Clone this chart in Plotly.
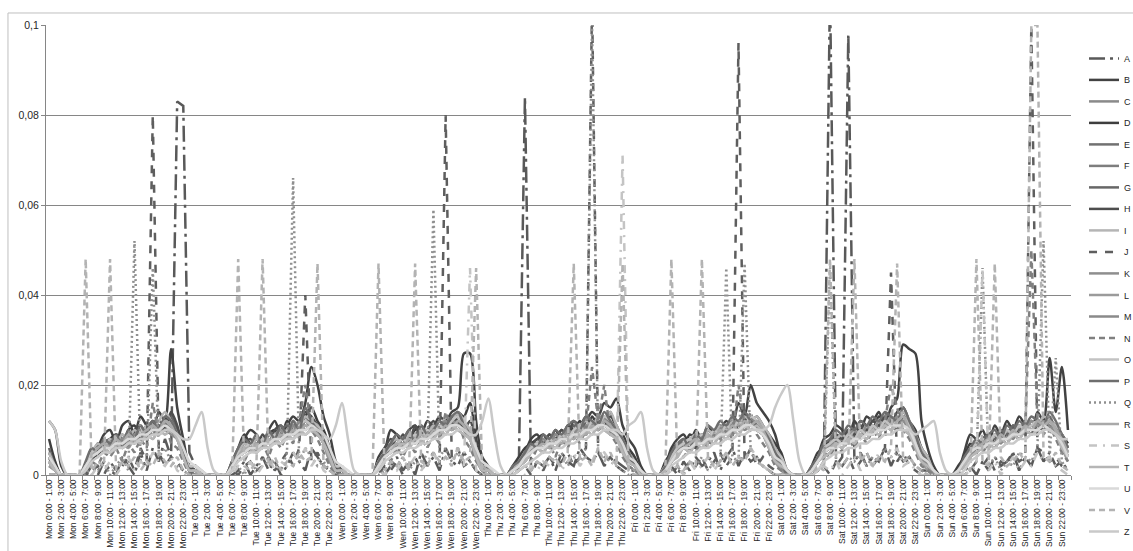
import plotly.graph_objects as go

# Hour-of-week categories (tick labels)
days = ["Mon", "Tue", "Wen", "Thu", "Fri", "Sat", "Sun"]
categories = [f"{d} {h}:00 - {h + 1}:00" for d in days for h in range(24)]

# Series values, in thousandths, Mon..Sun, 24 hours per day
A = [0,0,0,0,0,0,0,2,0,3,1,0,4,2,0,5,1,6,3,8,4,83,82,5,
     2,0,0,0,0,0,0,1,3,0,2,4,1,3,0,2,5,3,1,6,4,2,1,0,
     0,0,0,0,0,0,1,0,2,4,1,3,0,5,2,4,1,6,3,2,5,3,1,0,
     0,0,0,0,0,2,84,1,3,2,4,1,5,3,2,6,4,3,5,2,4,3,2,1,
     1,0,0,0,0,1,2,0,3,1,4,2,3,5,1,4,6,2,5,3,4,2,1,0,
     0,0,0,0,0,0,1,3,108,2,4,98,3,5,2,4,3,6,2,5,3,4,2,1,
     1,0,0,0,0,0,1,2,0,3,1,4,2,3,5,1,4,2,6,3,5,2,3,1]
B = [12,10,2,0,0,0,1,3,6,9,10,7,11,12,9,13,11,10,14,12,28,15,8,2,
     1,0,0,0,0,0,2,4,8,10,9,7,10,12,9,11,13,12,16,24,20,13,9,3,
     1,0,0,0,0,0,2,5,10,9,8,10,11,9,12,11,13,12,14,15,27,27,12,4,
     2,0,0,0,1,3,5,8,9,7,9,8,10,9,11,10,12,14,13,16,15,17,11,8,
     6,2,0,0,0,2,6,8,9,7,10,8,11,9,10,12,11,16,13,20,16,14,12,9,
     4,1,0,0,0,1,4,8,9,11,10,8,12,10,13,12,14,11,15,17,29,28,27,12,
     6,2,0,0,0,1,5,9,8,10,7,11,9,12,10,13,11,9,14,12,26,14,24,10]
C = [3,1,0,0,0,0,2,4,5,6,5,7,6,8,7,9,8,10,9,10,9,8,4,1,
     0,0,0,0,0,0,2,4,5,6,7,6,8,7,9,8,10,9,11,10,9,7,4,1,
     0,0,0,0,0,0,2,4,5,6,7,8,7,9,8,10,9,11,10,11,10,8,4,1,
     1,0,0,0,1,2,3,5,6,7,6,8,7,9,8,10,9,11,10,11,10,8,6,3,
     2,0,0,0,0,1,3,5,6,7,6,8,7,9,8,10,9,11,10,11,10,9,6,3,
     2,0,0,0,0,1,3,5,6,7,8,7,9,8,10,9,11,10,12,11,12,10,7,4,
     2,0,0,0,0,1,3,4,6,7,6,8,7,9,8,10,9,11,10,11,10,9,7,4]
D = [8,3,0,0,0,0,1,4,7,6,8,9,7,10,11,8,10,12,9,11,13,10,5,1,
     1,0,0,0,0,0,3,6,9,7,8,6,9,10,8,12,10,11,13,15,12,10,6,2,
     0,0,0,0,0,0,4,6,7,9,6,8,10,11,9,10,12,10,11,14,13,16,8,3,
     1,0,0,0,2,4,6,7,8,9,7,10,8,11,10,12,9,13,11,12,14,10,9,6,
     4,1,0,0,0,3,5,7,6,9,8,7,10,9,11,10,12,11,14,12,13,11,9,7,
     5,1,0,0,0,2,5,6,8,9,7,10,9,12,11,10,13,12,11,14,15,12,10,6,
     4,1,0,0,0,2,4,7,6,8,9,7,10,8,11,9,12,10,11,13,12,11,9,7]
E = [4,1,0,0,0,0,2,5,6,7,6,8,7,9,8,10,9,11,10,12,11,9,5,1,
     1,0,0,0,0,0,2,5,6,7,8,7,9,8,10,9,11,10,12,11,10,8,4,1,
     1,0,0,0,0,0,3,5,6,7,8,7,9,10,9,11,10,12,11,12,10,9,5,1,
     1,0,0,0,1,2,4,6,7,6,8,9,8,10,9,11,10,12,11,12,11,9,7,4,
     2,1,0,0,0,2,4,5,7,8,7,9,8,10,9,11,10,12,11,12,11,10,7,4,
     2,1,0,0,0,1,3,6,7,8,9,8,10,9,11,10,12,11,12,11,13,10,8,5,
     2,1,0,0,0,1,3,5,6,8,7,9,8,10,9,11,10,12,11,12,11,10,8,5]
F = [3,1,0,0,0,0,2,4,5,6,7,6,8,7,9,8,10,9,11,10,11,9,5,1,
     1,0,0,0,0,0,2,4,5,6,7,8,7,9,8,10,9,11,10,11,9,8,4,1,
     0,0,0,0,0,0,2,4,6,5,7,8,7,9,8,10,11,10,12,11,10,8,4,1,
     1,0,0,0,1,2,4,5,6,7,6,8,9,8,10,9,11,10,12,11,10,9,6,3,
     2,0,0,0,0,1,3,5,6,7,8,7,9,8,10,9,11,10,11,12,10,9,7,4,
     2,0,0,0,0,1,3,5,6,7,8,9,8,10,9,11,10,12,11,10,12,10,7,4,
     2,0,0,0,0,1,3,5,6,7,8,7,9,8,10,9,11,10,11,10,12,10,8,5]
G = [6,2,0,0,0,0,2,6,5,7,8,6,9,8,10,9,11,10,12,11,13,10,6,2,
     1,0,0,0,0,0,3,5,7,6,8,7,9,8,10,11,9,12,13,11,10,9,5,2,
     1,0,0,0,0,0,3,5,6,8,7,9,8,10,9,11,10,12,11,13,11,10,6,2,
     1,0,0,0,1,3,4,6,7,8,7,9,9,10,11,10,12,11,13,12,11,10,8,5,
     3,1,0,0,0,2,4,6,8,7,9,8,10,9,11,10,12,11,12,13,11,10,8,5,
     3,1,0,0,0,1,4,6,7,9,8,10,9,11,10,12,11,10,13,12,14,11,8,5,
     3,1,0,0,0,1,3,6,7,8,9,8,10,9,11,10,12,11,12,11,13,10,9,6]
H = [5,2,0,0,0,0,2,5,4,8,6,9,8,7,10,11,9,12,11,10,14,11,6,2,
     1,0,0,0,0,0,2,5,7,8,6,9,7,10,11,9,12,10,14,13,11,9,5,1,
     1,0,0,0,0,0,3,6,8,6,9,7,11,8,10,12,9,11,13,12,10,12,7,2,
     1,0,0,0,1,3,5,6,8,7,9,8,10,9,12,11,13,10,12,11,13,11,8,5,
     3,1,0,0,0,2,4,6,7,8,6,9,8,10,9,11,12,10,13,11,12,10,8,6,
     3,1,0,0,0,1,4,7,6,9,8,10,9,11,10,12,11,13,12,10,13,11,9,6,
     3,1,0,0,0,1,3,6,7,8,7,9,8,10,9,11,10,12,11,10,12,11,9,6]
I = [5,2,0,0,0,0,2,5,7,6,8,7,9,8,10,9,11,10,12,14,12,9,5,2,
     2,1,0,0,0,0,2,5,7,6,8,7,9,8,10,9,12,11,13,12,11,9,5,2,
     2,0,0,0,0,0,3,5,7,8,6,9,8,10,9,11,10,13,12,14,12,10,6,3,
     2,0,0,0,1,3,5,6,7,8,7,9,8,10,9,11,12,10,13,12,14,11,8,5,
     3,1,0,0,0,2,4,6,7,8,9,8,10,9,11,10,12,11,13,12,13,11,9,6,
     4,1,0,0,0,1,4,6,7,8,9,8,10,9,11,10,12,11,13,12,14,12,9,6,
     4,1,0,0,0,1,3,6,7,8,7,9,8,10,9,11,10,12,11,13,12,11,9,6]
J = [0,0,0,0,0,0,0,1,2,0,3,1,2,4,1,6,3,80,5,2,4,3,1,0,
     0,0,0,0,0,0,1,0,2,3,1,2,4,1,3,5,2,6,40,3,5,2,1,0,
     0,0,0,0,0,0,0,2,1,3,0,2,4,1,3,5,2,80,4,6,2,3,1,0,
     0,0,0,0,0,1,2,0,3,1,4,2,3,5,2,4,6,105,5,3,4,2,1,0,
     0,0,0,0,0,1,0,2,1,3,2,4,1,3,5,2,4,96,3,6,2,4,2,1,
     0,0,0,0,0,0,1,2,0,3,2,4,1,3,5,2,4,6,45,3,5,2,1,0,
     0,0,0,0,0,0,0,1,3,2,4,1,3,2,5,3,4,100,6,5,3,4,2,1]
K = [2,1,0,0,0,0,2,5,6,5,7,6,8,9,7,10,8,11,10,12,10,8,4,1,
     0,0,0,0,0,0,2,5,6,7,6,8,7,9,10,8,11,9,12,10,9,7,3,1,
     0,0,0,0,0,0,3,5,6,7,8,6,9,8,10,9,11,10,12,11,10,8,4,1,
     1,0,0,0,1,2,4,5,7,6,8,7,9,10,8,11,9,12,10,12,11,9,6,3,
     2,0,0,0,0,1,3,6,7,6,8,9,7,10,9,11,10,12,11,13,10,9,6,3,
     2,0,0,0,0,1,3,5,7,8,7,9,10,8,11,9,12,10,13,11,12,10,7,4,
     2,0,0,0,0,1,3,5,6,8,7,9,8,10,9,11,10,12,11,12,11,9,7,4]
L = [2,1,0,0,0,0,1,4,5,6,5,6,7,6,8,7,9,8,10,9,10,8,4,1,
     0,0,0,0,0,0,1,4,5,6,5,7,6,8,7,9,8,10,9,10,9,7,3,1,
     0,0,0,0,0,0,2,4,5,6,7,6,8,7,9,8,10,9,11,10,9,8,4,1,
     0,0,0,0,1,2,3,5,6,5,7,6,8,7,9,8,10,9,11,10,9,8,5,2,
     1,0,0,0,0,1,3,4,6,5,7,6,8,7,9,8,10,9,11,10,11,9,6,3,
     1,0,0,0,0,1,3,4,5,7,6,8,7,9,8,10,9,11,10,11,10,9,6,3,
     1,0,0,0,0,1,2,4,5,6,7,6,8,7,9,8,10,9,10,11,10,9,6,3]
M = [3,1,0,0,0,0,2,4,6,5,7,6,8,7,9,10,8,11,9,12,11,8,4,1,
     0,0,0,0,0,0,2,4,6,7,5,8,7,9,8,10,11,9,12,11,10,7,4,1,
     0,0,0,0,0,0,2,5,6,7,8,7,9,8,10,9,11,12,10,12,11,8,4,1,
     1,0,0,0,1,2,4,5,6,8,7,9,8,10,9,11,10,12,11,13,10,9,6,3,
     2,0,0,0,0,1,3,5,7,6,8,7,9,8,10,11,9,12,11,12,10,9,7,4,
     2,0,0,0,0,1,3,5,6,8,7,9,8,10,9,11,10,12,11,13,12,10,7,4,
     2,0,0,0,0,1,3,5,6,7,8,7,9,8,10,9,11,10,12,11,12,10,8,4]
N = [0,0,0,0,0,0,1,3,2,5,4,6,3,7,5,8,6,16,9,12,7,6,3,0,
     0,0,0,0,0,0,2,4,3,6,5,7,4,8,6,9,7,12,20,10,8,5,2,0,
     0,0,0,0,0,0,2,5,3,6,4,7,5,8,6,9,7,14,10,12,8,6,3,1,
     0,0,0,0,1,2,4,3,6,5,7,4,8,6,9,7,10,24,12,20,9,7,4,2,
     1,0,0,0,0,2,3,5,4,6,5,8,6,9,7,10,8,20,11,14,9,7,5,2,
     1,0,0,0,0,1,3,5,4,7,5,8,6,9,7,10,8,12,20,15,10,8,5,2,
     1,0,0,0,0,1,3,4,6,5,7,6,8,7,9,8,10,50,12,9,11,8,5,3]
O = [4,1,0,0,0,0,2,5,6,7,6,8,7,9,8,10,9,11,10,12,11,9,5,2,
     2,0,0,0,0,0,2,5,6,7,6,8,7,9,8,10,9,11,12,11,10,8,5,2,
     2,0,0,0,0,0,3,5,6,7,8,7,9,8,10,9,11,10,12,13,11,9,6,2,
     2,0,0,0,1,2,4,6,7,6,8,7,9,8,10,11,9,12,11,13,12,10,7,4,
     3,1,0,0,0,2,4,6,7,8,7,9,8,10,9,11,10,12,11,13,12,10,8,5,
     4,1,0,0,0,1,4,6,7,8,7,9,8,10,9,11,10,12,11,12,13,11,8,5,
     3,1,0,0,0,1,3,5,7,8,7,9,8,10,9,11,10,11,12,11,12,10,8,5]
P = [4,1,0,0,0,0,3,6,5,8,7,9,6,10,8,11,9,12,10,13,12,9,5,1,
     0,0,0,0,0,0,3,6,8,7,9,6,10,8,11,9,12,10,15,12,10,8,5,1,
     0,0,0,0,0,0,3,5,7,9,8,10,7,11,9,10,12,11,13,14,11,9,6,2,
     1,0,0,0,2,3,5,7,6,9,8,10,9,11,12,10,13,12,11,14,12,10,8,5,
     2,0,0,0,0,2,5,7,8,6,9,8,11,10,12,11,13,12,14,12,11,10,8,5,
     3,0,0,0,0,2,4,7,8,10,9,11,10,12,11,13,12,14,13,12,15,12,9,5,
     3,1,0,0,0,1,4,6,8,7,9,10,8,11,10,12,11,13,12,11,14,12,9,6]
Q = [0,0,0,0,0,0,0,2,1,3,0,2,4,1,52,3,2,46,4,6,3,2,1,0,
     0,0,0,0,0,0,1,2,0,3,1,4,2,3,1,5,66,3,6,4,2,3,1,0,
     0,0,0,0,0,0,0,1,3,2,4,1,3,2,5,59,4,6,3,5,2,3,1,0,
     0,0,0,0,0,1,2,1,3,2,4,3,5,2,4,3,6,100,5,4,3,2,1,0,
     0,0,0,0,0,0,1,2,0,3,2,4,1,3,2,46,4,3,47,5,3,2,1,0,
     0,0,0,0,0,0,1,2,46,3,2,4,3,5,2,4,3,6,4,5,3,4,2,1,
     0,0,0,0,0,0,0,1,3,46,2,4,1,3,2,5,4,3,6,52,4,26,3,1]
R = [3,1,0,0,0,0,2,4,6,7,6,8,7,9,8,9,10,11,10,12,11,8,4,1,
     1,0,0,0,0,0,2,4,6,5,7,6,8,7,9,8,10,9,11,10,9,7,4,1,
     1,0,0,0,0,0,2,4,5,7,6,8,7,9,8,10,9,11,10,12,11,8,5,2,
     1,0,0,0,1,2,4,5,6,7,6,8,7,9,8,10,9,11,10,12,11,9,6,3,
     2,1,0,0,0,1,3,5,6,7,8,7,9,8,10,9,11,10,12,11,12,10,7,4,
     3,1,0,0,0,1,3,5,6,7,6,8,7,9,8,10,9,11,10,12,13,10,7,4,
     3,1,0,0,0,1,3,5,6,7,8,7,9,8,10,9,11,10,12,11,12,10,8,5]
S = [0,0,0,0,0,0,1,0,2,1,3,0,2,4,1,3,2,5,3,2,4,1,0,0,
     0,0,0,0,0,0,0,2,1,3,0,2,4,1,3,2,5,3,6,2,4,1,0,0,
     0,0,0,0,0,0,1,0,2,1,3,2,4,1,3,5,2,4,3,6,2,46,1,0,
     0,0,0,0,0,1,0,2,1,3,2,4,1,3,5,2,4,3,6,5,3,2,71,1,
     0,0,0,0,0,0,1,2,0,3,1,2,4,1,3,5,2,4,3,6,4,2,1,0,
     0,0,0,0,0,0,1,2,1,3,0,2,4,1,3,2,5,3,4,6,2,3,1,0,
     0,0,0,0,0,0,0,1,2,46,1,3,0,2,4,1,3,2,5,3,4,2,1,0]
T = [3,1,0,0,0,0,2,4,5,6,5,7,6,7,8,7,9,8,10,9,10,8,4,1,
     1,0,0,0,0,0,2,4,5,6,5,7,6,8,7,9,8,10,9,10,9,7,4,1,
     1,0,0,0,0,0,2,4,5,6,7,6,8,7,9,8,10,9,11,10,9,8,4,1,
     1,0,0,0,1,2,3,5,6,5,7,6,8,7,9,8,10,9,11,10,9,8,5,3,
     2,0,0,0,0,1,3,4,6,5,7,6,8,7,9,8,10,9,11,10,11,9,6,3,
     2,1,0,0,0,1,3,4,5,7,6,8,7,9,8,10,9,11,10,11,10,9,6,3,
     2,1,0,0,0,1,2,4,5,6,7,6,8,7,9,8,10,9,10,11,10,9,6,4]
U = [4,2,0,0,0,0,2,4,5,6,6,7,7,8,8,9,9,10,10,11,10,9,6,3,
     2,1,0,0,0,0,2,4,5,6,6,7,7,8,8,9,9,10,10,11,10,9,6,3,
     2,1,0,0,0,0,2,4,5,6,6,7,7,8,8,9,10,10,11,11,10,9,6,3,
     2,1,0,0,1,2,4,5,6,6,7,7,8,8,9,9,10,10,11,11,10,9,7,4,
     3,1,0,0,0,1,3,5,6,6,7,7,8,8,9,9,10,10,11,11,10,9,7,4,
     3,1,0,0,0,1,3,5,6,6,7,7,8,8,9,9,10,10,11,11,11,10,7,4,
     3,1,0,0,0,1,3,5,6,6,7,7,8,8,9,9,10,10,10,11,10,9,7,4]
V = [0,0,0,0,0,0,48,1,3,2,48,1,3,2,4,1,3,2,5,3,2,4,1,0,
     0,0,0,0,0,0,0,48,2,1,3,48,2,4,1,3,2,5,3,4,47,2,1,0,
     0,0,0,0,0,0,47,1,3,2,4,1,47,3,2,5,3,4,2,6,3,4,46,1,
     0,0,0,0,0,1,2,1,3,2,4,3,2,5,47,3,4,2,6,3,5,2,47,1,
     0,0,0,0,0,1,48,2,1,3,2,48,4,2,3,5,2,4,3,6,3,2,1,0,
     0,0,0,0,0,0,2,1,48,3,2,4,48,3,5,2,4,3,6,47,3,4,2,1,
     0,0,0,0,0,0,2,1,48,3,2,47,4,2,3,5,3,100,100,4,3,5,2,1]
Z = [12,10,3,0,0,0,1,3,4,5,5,6,6,7,7,8,8,9,9,10,10,9,8,8,
     11,14,6,1,0,0,1,3,4,5,5,6,6,7,7,8,8,9,9,10,10,9,8,11,
     16,8,1,0,0,0,1,3,4,5,5,6,6,7,7,8,8,9,9,10,10,9,9,12,
     17,9,2,0,0,1,2,3,4,5,5,6,6,7,7,8,8,9,9,10,10,10,9,11,
     12,14,6,1,0,0,2,3,4,5,5,6,6,7,7,8,8,9,9,10,10,10,11,15,
     18,20,12,3,0,0,1,3,4,5,5,6,6,7,7,8,8,9,9,10,10,10,9,10,
     11,12,5,1,0,0,1,3,4,5,5,6,6,7,7,8,8,9,9,10,10,9,8,8]

series_names = ["A","B","C","D","E","F","G","H","I","J","K","L","M","N","O","P","Q","R","S","T","U","V","Z"]
series_values = [A,B,C,D,E,F,G,H,I,J,K,L,M,N,O,P,Q,R,S,T,U,V,Z]

styles = {
    "A": ("#595959", "16px,5px,3px,5px"), "B": ("#424242", "solid"), "C": ("#8a8a8a", "solid"),
    "D": ("#3e3e3e", "solid"), "E": ("#717171", "solid"), "F": ("#7e7e7e", "solid"),
    "G": ("#676767", "solid"), "H": ("#4e4e4e", "solid"), "I": ("#b5b5b5", "solid"),
    "J": ("#5e5e5e", "8px,8px"), "K": ("#8e8e8e", "solid"), "L": ("#9b9b9b", "solid"),
    "M": ("#8a8a8a", "solid"), "N": ("#808080", "6px,4px"), "O": ("#c2c2c2", "solid"),
    "P": ("#6e6e6e", "solid"), "Q": ("#8f8f8f", "2px,3px"), "R": ("#a9a9a9", "solid"),
    "S": ("#c4c4c4", "8px,6px,2px,6px"), "T": ("#b6b6b6", "solid"), "U": ("#d9d9d9", "solid"),
    "V": ("#b3b3b3", "6px,4px"), "Z": ("#c9c9c9", "solid"),
}

fig = go.Figure()
for idx, (name, vals) in enumerate(zip(series_names, series_values)):
    color, dash = styles[name]
    smooth = dash == "solid"
    fig.add_trace(go.Scatter(
        x=categories, y=[v / 1000 for v in vals], name=name, mode="lines",
        legendgroup=name, legend="legend" if idx < 11 else "legend2",
        line=dict(color=color, width=2.5, dash=dash,
                  shape="spline" if smooth else "linear", smoothing=0.8 if smooth else None),
    ))

legend_common = dict(x=1.0127, xanchor="left", yanchor="top",
                     font=dict(size=9, color="#262626"), tracegroupgap=2.5,
                     bgcolor="rgba(0,0,0,0)", itemwidth=30)

fig.update_layout(
    width=1133, height=551,
    margin=dict(l=46, r=62, t=25, b=76, autoexpand=False),
    paper_bgcolor="white", plot_bgcolor="white",
    separators=",.",
    font=dict(family="Liberation Sans, Arial, sans-serif", color="#262626"),
    showlegend=True,
    legend=dict(y=0.958, **legend_common),
    legend2=dict(y=0.4322, **legend_common),
    xaxis=dict(type="category", range=[-0.5, 167.5], tickmode="linear", tick0=0, dtick=2,
               tickangle=-90, tickfont=dict(size=8.5), showgrid=False, automargin=False,
               showline=True, linecolor="#868686", linewidth=1,
               ticks="outside", ticklen=4, tickcolor="#868686", tickson="boundaries"),
    yaxis=dict(range=[0, 0.1], dtick=0.02, tickfont=dict(size=10.5), automargin=False,
               showgrid=True, gridcolor="#868686", gridwidth=1,
               showline=True, linecolor="#868686", linewidth=1,
               ticks="outside", ticklen=4, tickcolor="#868686", zeroline=False),
    shapes=[dict(type="rect", xref="paper", yref="paper", x0=-0.0371, x1=1.08,
                 y0=-0.2, y1=1.0267, line=dict(color="#bfbfbf", width=1), layer="below")],
)

# Remove the page's default body margin so the 1133x551 figure fills the window exactly
fig.write_html("out.html", config={"displayModeBar": False},
               post_script="document.body.style.margin='0';document.body.style.overflow='hidden';")
